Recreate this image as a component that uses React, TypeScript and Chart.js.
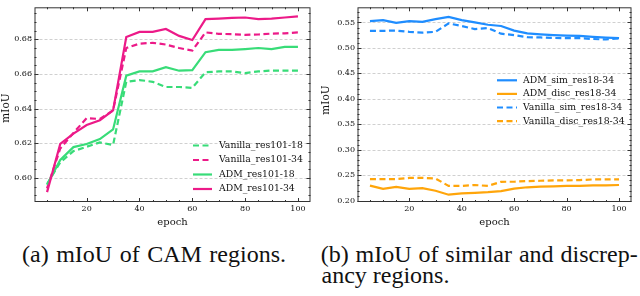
import React, { useEffect, useRef } from "react";
import { Chart, registerables } from "chart.js";

Chart.register(...registerables);

// ---------- data ----------
const epochs = [5, 10, 15, 20, 25, 30, 35, 40, 45, 50, 55, 60, 65, 70, 75, 80, 85, 90, 95, 100];

const vanillaRes101_18 = [0.5965, 0.609, 0.6155, 0.618, 0.6205, 0.619, 0.6555, 0.6565, 0.6555, 0.6525, 0.6525, 0.652, 0.661, 0.6615, 0.6615, 0.6605, 0.6615, 0.662, 0.662, 0.662];
const vanillaRes101_34 = [0.594, 0.617, 0.626, 0.6345, 0.634, 0.639, 0.675, 0.6775, 0.678, 0.677, 0.675, 0.6735, 0.684, 0.6832, 0.683, 0.6826, 0.6828, 0.6833, 0.6835, 0.684];
const admRes101_18 = [0.596, 0.6104, 0.6178, 0.6196, 0.6224, 0.628, 0.659, 0.6615, 0.6615, 0.6639, 0.6619, 0.6622, 0.6726, 0.6739, 0.6739, 0.6744, 0.675, 0.6744, 0.6756, 0.6756];
const admRes101_34 = [0.5918, 0.6196, 0.6256, 0.6305, 0.6333, 0.639, 0.6813, 0.6843, 0.6843, 0.686, 0.682, 0.6796, 0.6917, 0.692, 0.6924, 0.6926, 0.6917, 0.692, 0.6926, 0.6933];

const admSimRes18_34 = [0.5525, 0.5545, 0.549, 0.5525, 0.551, 0.5565, 0.561, 0.5545, 0.55, 0.5455, 0.543, 0.534, 0.5285, 0.5265, 0.525, 0.524, 0.5235, 0.5215, 0.52, 0.519];
const admDiscRes18_34 = [0.2296, 0.2233, 0.2271, 0.2233, 0.2246, 0.2195, 0.2118, 0.2143, 0.2156, 0.2169, 0.2188, 0.2239, 0.2264, 0.2277, 0.2283, 0.229, 0.229, 0.2303, 0.2303, 0.2309];
const vanillaSimRes18_34 = [0.5335, 0.5335, 0.534, 0.5315, 0.53, 0.5315, 0.548, 0.543, 0.537, 0.539, 0.528, 0.525, 0.521, 0.5205, 0.5195, 0.519, 0.519, 0.5175, 0.5165, 0.519];
const vanillaDiscRes18_34 = [0.2424, 0.2424, 0.2424, 0.2448, 0.2448, 0.2436, 0.229, 0.229, 0.2309, 0.229, 0.2372, 0.2373, 0.2386, 0.2392, 0.24, 0.24, 0.2405, 0.2418, 0.2418, 0.2418];

const xTickValues = [20, 40, 60, 80, 100];
const leftYTickValues = [0.6, 0.62, 0.64, 0.66, 0.68];
const rightYTickValues = [0.2, 0.25, 0.3, 0.35, 0.4, 0.45, 0.5, 0.55];

const captionA = "(a) mIoU of CAM regions.";
const captionB1 = "(b) mIoU of similar and discrep-";
const captionB2 = "ancy regions.";

// ---------- styles ----------
const PINK = "#ec1a88";
const GREEN = "#38dc78";
const BLUE = "#1f8dff";
const ORANGE = "#ffa50a";
const SERIF = "'DejaVu Serif', serif";
const DASH = [6, 3.5];

type SeriesDef = { label: string; data: number[]; color: string; dashed: boolean };

type PanelCfg = {
  left: number;
  series: SeriesDef[];
  yMin: number;
  yMax: number;
  yTicks: number[];
  yMinorStep: number;
  yAxisWidth: number;
  rightPad: number;
  yTitlePos: [number, number];
  legend: { x0: number; x1: number; tx: number; y0: number; dy: number };
};

function makeFramePlugin(cfg: PanelCfg) {
  return {
    id: "frame" + cfg.left,
    beforeDatasetsDraw(chart: any) {
      const { ctx, chartArea } = chart;
      const ys = chart.scales.y;
      ctx.save();
      ctx.strokeStyle = "#c4c4c4";
      ctx.lineWidth = 0.8;
      ctx.setLineDash([3, 2]);
      for (const v of cfg.yTicks) {
        const py = Math.round(ys.getPixelForValue(v)) + 0.5;
        ctx.beginPath();
        ctx.moveTo(chartArea.left, py);
        ctx.lineTo(chartArea.right, py);
        ctx.stroke();
      }
      ctx.restore();
    },
    afterDatasetsDraw(chart: any) {
      const { ctx, chartArea } = chart;
      const xs = chart.scales.x;
      const ys = chart.scales.y;
      const { left, right, top, bottom } = chartArea;
      ctx.save();
      ctx.setLineDash([]);
      ctx.strokeStyle = "#333";
      ctx.lineWidth = 1;
      ctx.strokeRect(left + 0.5, top + 0.5, right - left - 1, bottom - top - 1);
      // x ticks (inward, top & bottom)
      ctx.beginPath();
      for (let v = 5; v <= 100; v += 5) {
        const major = xTickValues.includes(v);
        const len = major ? 4 : 2;
        const px = Math.round(xs.getPixelForValue(v)) + 0.5;
        ctx.moveTo(px, bottom);
        ctx.lineTo(px, bottom - len);
        ctx.moveTo(px, top);
        ctx.lineTo(px, top + len);
      }
      // y ticks (inward, left & right)
      const lo = Math.ceil(cfg.yMin / cfg.yMinorStep);
      const hi = Math.floor(cfg.yMax / cfg.yMinorStep);
      for (let k = lo; k <= hi; k++) {
        const v = k * cfg.yMinorStep;
        const major = cfg.yTicks.some((t) => Math.abs(t - v) < 1e-6);
        const len = major ? 4 : 2;
        const py = Math.round(ys.getPixelForValue(v)) + 0.5;
        ctx.moveTo(left, py);
        ctx.lineTo(left + len, py);
        ctx.moveTo(right, py);
        ctx.lineTo(right - len, py);
      }
      ctx.stroke();

      // y title
      ctx.fillStyle = "#111";
      ctx.font = "10.5px " + SERIF;
      ctx.textAlign = "center";
      ctx.textBaseline = "middle";
      ctx.save();
      ctx.translate(cfg.yTitlePos[0], cfg.yTitlePos[1]);
      ctx.rotate(-Math.PI / 2);
      ctx.fillText("mIoU", 0, 0);
      ctx.restore();

      // legend
      const lg = cfg.legend;
      ctx.font = "9.3px " + SERIF;
      ctx.textAlign = "left";
      ctx.textBaseline = "middle";
      chart.data.datasets.forEach((ds: any, i: number) => {
        const y = lg.y0 + i * lg.dy;
        ctx.strokeStyle = ds.borderColor;
        ctx.lineWidth = 2.2;
        ctx.setLineDash(ds.borderDash || []);
        ctx.beginPath();
        ctx.moveTo(lg.x0, y);
        ctx.lineTo(lg.x1, y);
        ctx.stroke();
        ctx.setLineDash([]);
        ctx.fillStyle = "#111";
        ctx.fillText(ds.label, lg.tx, y);
      });
      ctx.restore();
    },
  };
}

function Panel({ cfg }: { cfg: PanelCfg }) {
  const ref = useRef<HTMLCanvasElement>(null);
  useEffect(() => {
    if (!ref.current) return;
    const n = cfg.series.length;
    const chart = new Chart(ref.current, {
      type: "line",
      data: {
        labels: epochs,
        datasets: cfg.series.map((s, i) => ({
          label: s.label,
          data: epochs.map((e, j) => ({ x: e, y: s.data[j] })),
          borderColor: s.color,
          backgroundColor: s.color,
          borderWidth: 2.2,
          borderDash: s.dashed ? DASH : [],
          pointRadius: 0,
          tension: 0,
          fill: false,
          order: n - i,
        })),
      },
      options: {
        responsive: false,
        animation: false,
        devicePixelRatio: 1,
        layout: { padding: { left: 0, right: cfg.rightPad, top: 0, bottom: 0 } },
        plugins: { legend: { display: false }, tooltip: { enabled: false } },
        scales: {
          x: {
            type: "linear",
            min: 0.25,
            max: 104.75,
            afterBuildTicks: (s: any) => {
              s.ticks = xTickValues.map((v) => ({ value: v }));
            },
            afterFit: (s: any) => {
              s.height = 30;
            },
            grid: { display: false, drawTicks: false },
            border: { display: false },
            ticks: {
              font: { family: SERIF, size: 8 },
              color: "#111",
              padding: 2,
              maxRotation: 0,
              autoSkip: false,
              callback: (v: any) => String(v),
            },
            title: {
              display: true,
              text: "epoch",
              font: { family: SERIF, size: 10 },
              color: "#111",
              padding: { top: 0, bottom: 4 },
            },
          },
          y: {
            type: "linear",
            min: cfg.yMin,
            max: cfg.yMax,
            afterBuildTicks: (s: any) => {
              s.ticks = cfg.yTicks.map((v) => ({ value: v }));
            },
            afterFit: (s: any) => {
              s.width = cfg.yAxisWidth;
            },
            grid: { display: false, drawTicks: false },
            border: { display: false },
            ticks: {
              font: { family: SERIF, size: 8 },
              color: "#111",
              padding: 2.5,
              autoSkip: false,
              callback: (v: any) => Number(v).toFixed(2),
            },
          },
        },
      } as any,
      plugins: [makeFramePlugin(cfg)],
    });
    return () => chart.destroy();
  }, []);
  return (
    <canvas
      ref={ref}
      width={320}
      height={232}
      style={{ position: "absolute", left: cfg.left, top: 0, width: 320, height: 232 }}
    />
  );
}

const leftCfg: PanelCfg = {
  left: 0,
  series: [
    { label: "Vanilla_res101-18", data: vanillaRes101_18, color: GREEN, dashed: true },
    { label: "Vanilla_res101-34", data: vanillaRes101_34, color: PINK, dashed: true },
    { label: "ADM_res101-18", data: admRes101_18, color: GREEN, dashed: false },
    { label: "ADM_res101-34", data: admRes101_34, color: PINK, dashed: false },
  ],
  yMin: 0.5861,
  yMax: 0.6985,
  yTicks: leftYTickValues,
  yMinorStep: 0.005,
  yAxisWidth: 34.5,
  rightPad: 9.5,
  yTitlePos: [6, 108],
  legend: { x0: 193, x1: 212, tx: 219, y0: 145.5, dy: 14.5 },
};

const rightCfg: PanelCfg = {
  left: 320,
  series: [
    { label: "ADM_sim_res18-34", data: admSimRes18_34, color: BLUE, dashed: false },
    { label: "ADM_disc_res18-34", data: admDiscRes18_34, color: ORANGE, dashed: false },
    { label: "Vanilla_sim_res18-34", data: vanillaSimRes18_34, color: BLUE, dashed: true },
    { label: "Vanilla_disc_res18-34", data: vanillaDiscRes18_34, color: ORANGE, dashed: true },
  ],
  yMin: 0.1975,
  yMax: 0.5797,
  yTicks: rightYTickValues,
  yMinorStep: 0.01,
  yAxisWidth: 37.5,
  rightPad: 8.5,
  yTitlePos: [6, 100],
  legend: { x0: 177, x1: 197, tx: 203, y0: 80.3, dy: 13.6 },
};

export default function App() {
  const capStyle: React.CSSProperties = {
    position: "absolute",
    fontFamily: "'Liberation Serif', 'Times New Roman', serif",
    fontSize: 24,
    lineHeight: "24px",
    color: "#111",
    whiteSpace: "nowrap",
  };
  return (
    <div
      style={{
        position: "fixed",
        left: 0,
        top: 0,
        width: 640,
        height: 296,
        background: "#fff",
        overflow: "hidden",
      }}
    >
      <Panel cfg={leftCfg} />
      <Panel cfg={rightCfg} />
      <div style={{ ...capStyle, left: 0, width: 308, top: 241.5, textAlign: "center", wordSpacing: 1.5 }}>
        {captionA}
      </div>
      <div style={{ ...capStyle, left: 320.7, top: 241.5, wordSpacing: 0.9 }}>{captionB1}</div>
      <div style={{ ...capStyle, left: 321.5, top: 263.2 }}>{captionB2}</div>
    </div>
  );
}
